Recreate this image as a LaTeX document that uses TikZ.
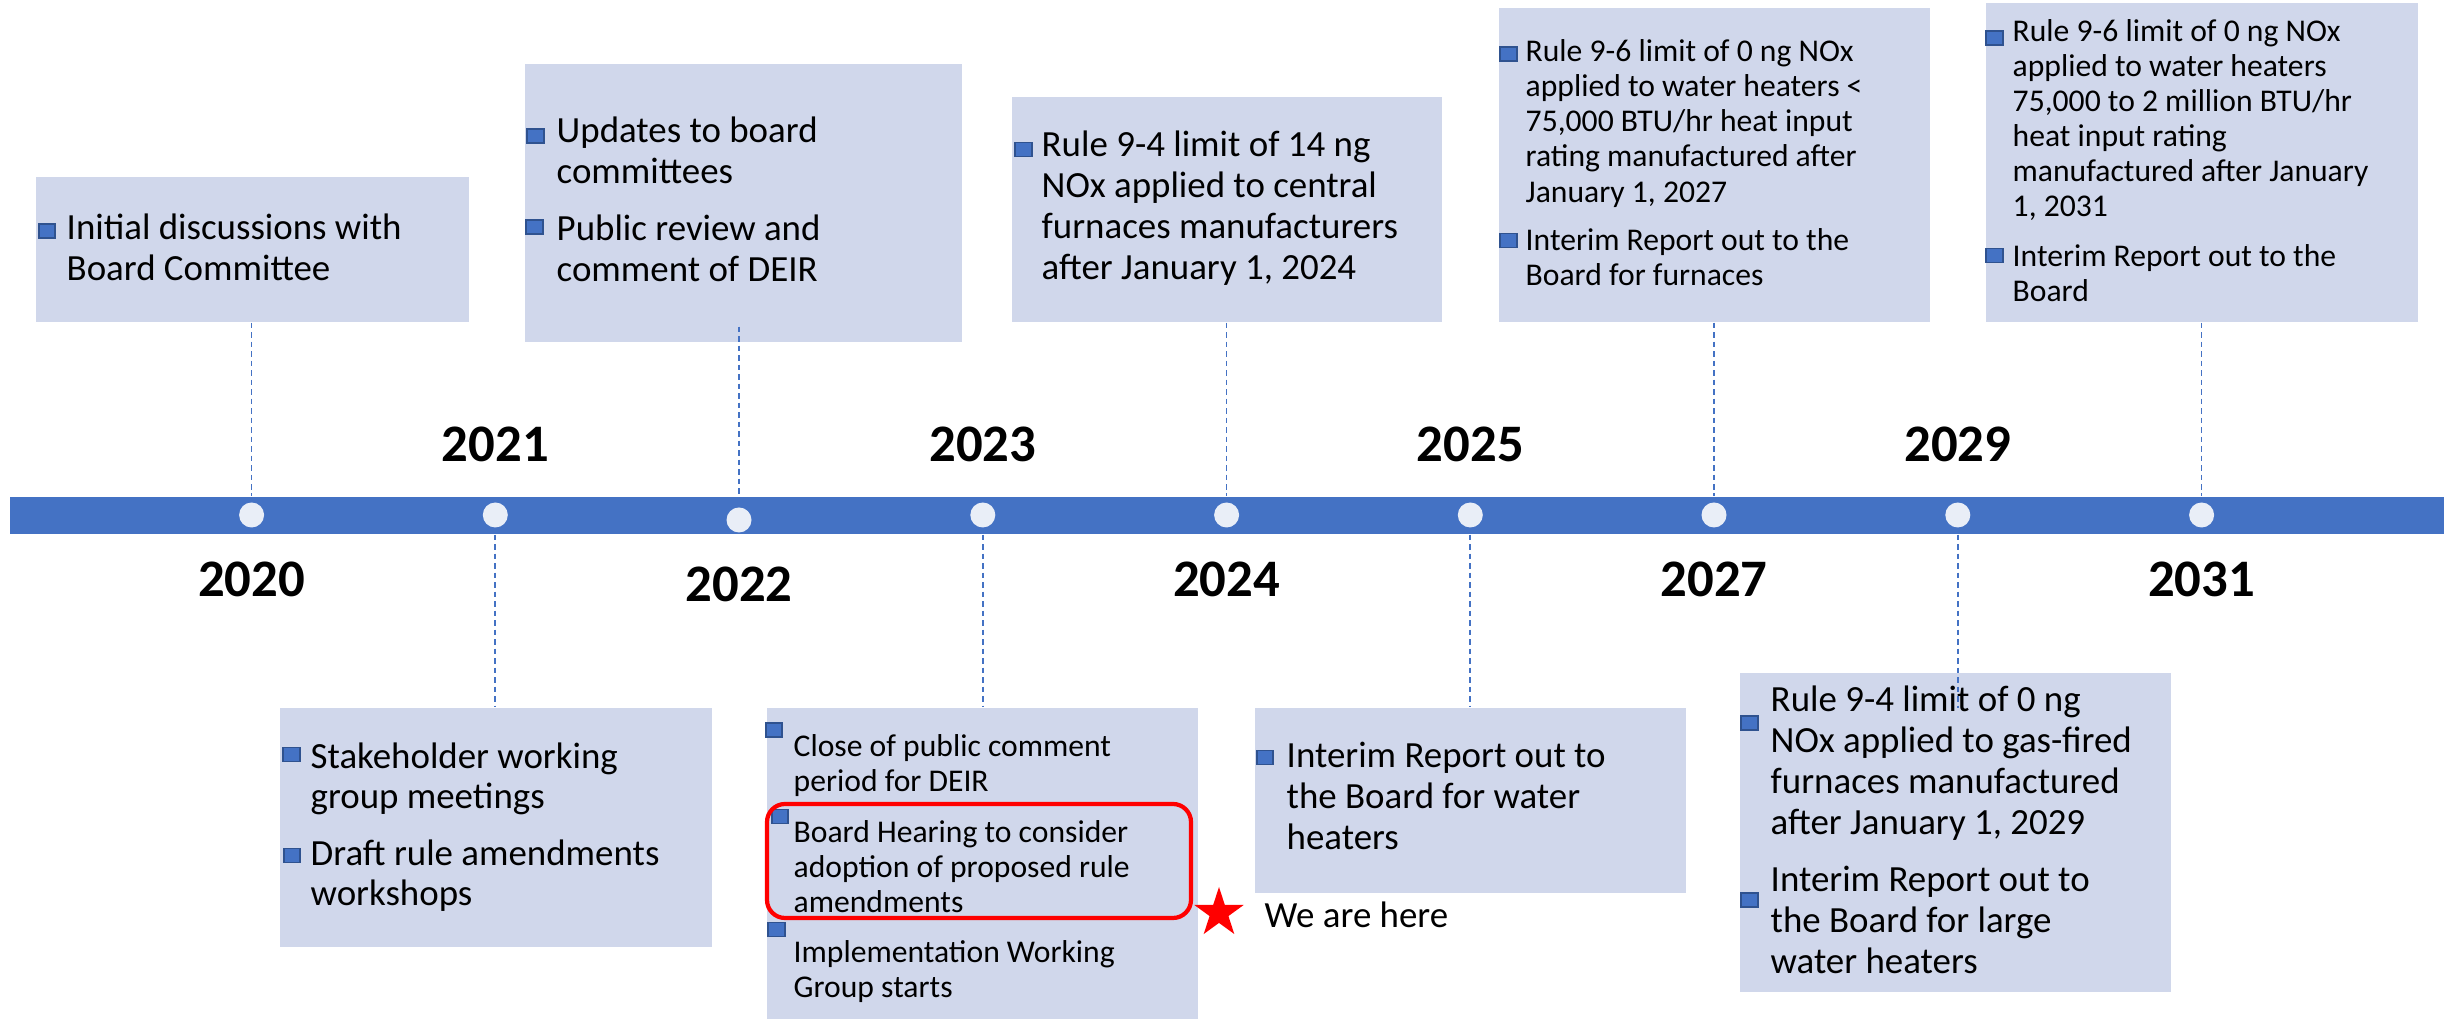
\documentclass[tikz,border=0pt]{standalone}
\usepackage{fontspec}
\setmainfont{Carlito}
\usetikzlibrary{fit,shapes.geometric}
\definecolor{barblue}{HTML}{4472C4}
\definecolor{bulletedge}{HTML}{2F528F}
\definecolor{boxfill}{HTML}{D0D7EB}
\definecolor{dotfill}{HTML}{E9EEF7}
\newcommand{\bigtext}{\fontsize{10.5}{11.66}\selectfont}
\newcommand{\smalltext}{\fontsize{9}{9.96}\selectfont}
\newcommand{\rows}[1]{\begin{tabular}[t]{@{}l@{}}#1\end{tabular}}

\begin{document}
\begin{tikzpicture}[x=0.1mm, y=-0.1mm,
    box/.style={fill=boxfill, inner sep=0pt},
    dot/.style={circle, fill=dotfill, minimum size=2.5mm, inner sep=0pt},
    link/.style={barblue, line width=0.5pt, dash pattern=on 1.6pt off 1.1pt},
    bul/.style={rectangle, fill=barblue, draw=bulletedge, line width=0.5pt,
      minimum width=1.65mm, minimum height=1.4mm, inner sep=0pt},
    txt/.style={anchor=base west, inner sep=0pt, font=\bigtext},
    small/.style={txt, font=\smalltext},
    year/.style={anchor=base, inner sep=0pt, font=\fontsize{15}{18}\selectfont\bfseries}]
  \useasboundingbox (0,0) rectangle (2450,1022);
  % boxes
  \node[box, fit={(36,177) (469,322)}] (bA) {};
  \node[box, fit={(525,64) (962,342)}] (bB) {};
  \node[box, fit={(1012,97) (1442,322)}] (bC) {};
  \node[box, fit={(1499,8) (1930,322)}] (bD) {};
  \node[box, fit={(1986,3) (2418,322)}] (bE) {};
  \node[box, fit={(280,708) (712,947)}] (bF) {};
  \node[box, fit={(767,708) (1198,1019)}] (bG) {};
  \node[box, fit={(1255,708) (1686,893)}] (bH) {};
  \node[box, fit={(1740,673) (2171,992)}] (bI) {};
  % timeline
  \node[fill=barblue, inner sep=0pt, fit={(10,497) (2444,534)}] (bar) {};
  \node[dot] (d20) at (251.6,515) {};
  \node[dot] (d21) at (495.3,515) {};
  \node[dot] (d22) at (739,520) {};
  \node[dot] (d23) at (982.8,515) {};
  \node[dot] (d24) at (1226.6,515) {};
  \node[dot] (d25) at (1470.3,515) {};
  \node[dot] (d27) at (1714,515) {};
  \node[dot] (d29) at (1957.8,515) {};
  \node[dot] (d31) at (2201.6,515) {};
  % connectors
  \draw[link] (bA.south -| d20) -- (bar.north -| d20);
  \draw[link] ([yshift=1.6mm]bB.south -| d22) -- (bar.north -| d22);
  \draw[link] (bC.south -| d24) -- (bar.north -| d24);
  \draw[link] (bD.south -| d27) -- (bar.north -| d27);
  \draw[link] (bE.south -| d31) -- (bar.north -| d31);
  \draw[link] (bar.south -| d21) -- (bF.north -| d21);
  \draw[link] (bar.south -| d23) -- (bG.north -| d23);
  \draw[link] (bar.south -| d25) -- (bH.north -| d25);
  \draw[link] (bar.south -| d29) -- ([yshift=-3.6mm]bI.north -| d29);
  % years
  \node[year] (y20) at (251.6,597) {2020};
  \node[year] (y21) at (495.3,462) {2021};
  \node[year] (y22) at (739,602) {2022};
  \node[year] (y23) at (982.8,462) {2023};
  \node[year] (y24) at (1226.6,597) {2024};
  \node[year] (y25) at (1470.3,462) {2025};
  \node[year] (y27) at (1714,597) {2027};
  \node[year] (y29) at (1957.8,462) {2029};
  \node[year] (y31) at (2201.6,597) {2031};
  % bullets
  \node[bul] (pA) at (47,231) {};
  \node[bul] (pB1) at (535.5,136) {};
  \node[bul] (pB2) at (534.5,227) {};
  \node[bul] (pC) at (1023.5,149.5) {};
  \node[bul] (pD1) at (1508.5,54) {};
  \node[bul] (pD2) at (1508.5,240.5) {};
  \node[bul] (pE1) at (1994.5,38) {};
  \node[bul] (pE2) at (1994.5,255.5) {};
  \node[bul] (pF1) at (291.5,754.5) {};
  \node[bul] (pF2) at (292,855.5) {};
  \node[bul] (pG1) at (774,730) {};
  \node[bul] (pG2) at (780,816.5) {};
  \node[bul] (pG3) at (776.5,929.5) {};
  \node[bul] (pH) at (1265,757.5) {};
  \node[bul] (pI1) at (1749.5,723) {};
  \node[bul] (pI2) at (1749.5,900) {};
  % texts
  \node[txt] (tA) at (66,240) {\rows{Initial discussions with\\Board Committee}};
  \node[txt] (tB) at (556,143) {\rows{Updates to board\\committees\\[4.4pt]Public review and\\comment of DEIR}};
  \node[txt] (tC) at (1041,157) {\rows{Rule 9-4 limit of 14 ng\\NOx applied to central\\furnaces manufacturers\\after January 1, 2024}};
  \node[small] (tD) at (1525,62) {\rows{Rule 9-6 limit of 0 ng NOx\\applied to water heaters <\\75,000 BTU/hr heat input\\rating manufactured after\\January 1, 2027\\[3.7pt]Interim Report out to the\\Board for furnaces}};
  \node[small] (tE) at (2012,41.7) {\rows{Rule 9-6 limit of 0 ng NOx\\applied to water heaters\\75,000 to 2 million BTU/hr\\heat input rating\\manufactured after January\\1, 2031\\[4.3pt]Interim Report out to the\\Board}};
  \node[txt, font=\fontsize{10.5}{11.2}\selectfont] (tF) at (310,769) {\rows{Stakeholder working\\group meetings\\[5.1pt]Draft rule amendments\\workshops}};
  \node[small] (tG) at (793,757) {\rows{Close of public comment\\period for DEIR\\[4.3pt]Board Hearing to consider\\adoption of proposed rule\\amendments\\[4.3pt]Implementation Working\\Group starts}};
  \node[txt] (tH) at (1286,768) {\rows{Interim Report out to\\the Board for water\\heaters}};
  \node[txt] (tI) at (1770,711.5) {\rows{Rule 9-4 limit of 0 ng\\NOx applied to gas-fired\\furnaces manufactured\\after January 1, 2029\\[4.7pt]Interim Report out to\\the Board for large\\water heaters}};
  % current step
  \node[draw=red, line width=1.2pt, rounded corners=1.8mm, inner sep=0pt,
    fit={(767,804) (1191,918)}] (hear) {};
  \node[star, star points=5, star point ratio=2.618, fill=red, inner sep=0pt,
    minimum size=5.2mm] (here) at (1219,913) {};
  \node[txt] (we) at (1264,928) {We are here};
\end{tikzpicture}
\end{document}
